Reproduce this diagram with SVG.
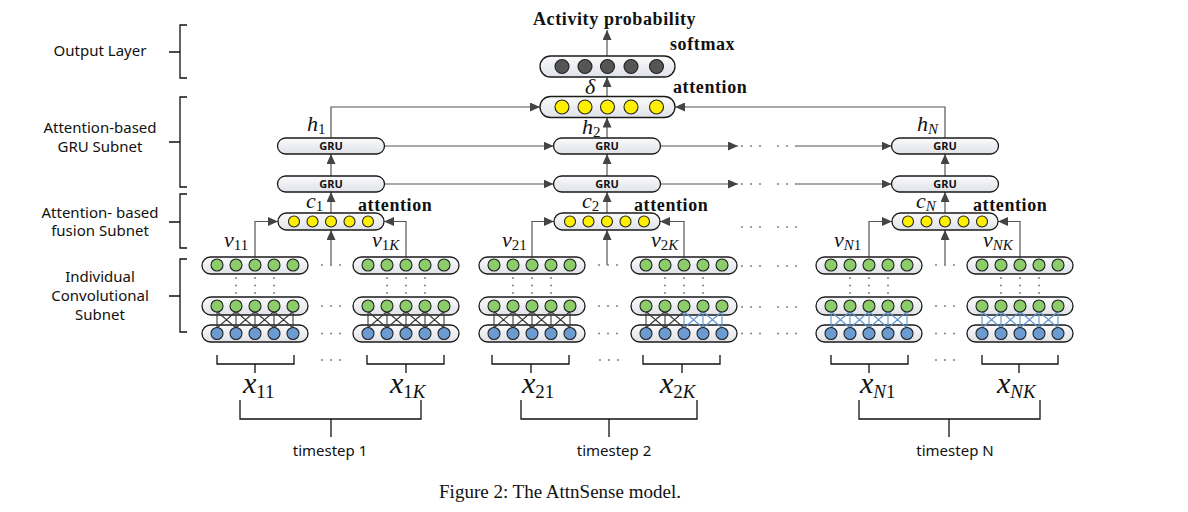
<svg xmlns="http://www.w3.org/2000/svg" xmlns:xlink="http://www.w3.org/1999/xlink" width="1188" height="512" viewBox="0 0 1188 512">
<defs>
<style>
.capsule{fill:url(#capg);stroke:#1a1a1a;stroke-width:1.3}
.gc{fill:#8ccc6a;stroke:#222;stroke-width:1.1}
.bc{fill:#6b9bd0;stroke:#222;stroke-width:1.1}
.yc{fill:#fff000;stroke:#222;stroke-width:1.1}
.kc{fill:#555;stroke:#222;stroke-width:1.1}
.dot{fill:#8a8a8a}
.xd{stroke:#3a3a3a;stroke-width:1.1;fill:none}
.xb{stroke:#5b95d0;stroke-width:1.1;fill:none}
.conn{stroke:#555;stroke-width:1.2;fill:none;marker-end:url(#ah)}
.br{stroke:#111;stroke-width:1.3;fill:none}
.lbl{font-family:"Noto Sans","DejaVu Sans",sans-serif;font-size:15px;fill:#111;text-anchor:middle}
.gru{font-family:"Noto Sans","DejaVu Sans",sans-serif;font-size:11px;font-weight:bold;fill:#111;text-anchor:middle}
.bt{font-family:"Liberation Serif",serif;font-weight:bold;font-size:18px;letter-spacing:0.6px;fill:#111}
.m{font-family:"Liberation Serif",serif;font-style:italic;font-size:22px;fill:#111}
.mx{font-family:"Liberation Serif",serif;font-style:italic;font-size:30px;fill:#111}
.s{font-style:normal;font-size:15px}
.si{font-style:italic;font-size:15px}
.s2{font-style:normal;font-size:19px}
.si2{font-style:italic;font-size:19px}
.fig{font-family:"Liberation Serif",serif;font-size:19px;fill:#111;text-anchor:middle}
</style>
<linearGradient id="capg" x1="0" y1="0" x2="0" y2="1">
<stop offset="0" stop-color="#fbfbfc"/>
<stop offset="1" stop-color="#dfe2e8"/>
</linearGradient>
<marker id="ah" viewBox="0 0 10 9" refX="10" refY="4.5" markerWidth="10" markerHeight="9" markerUnits="userSpaceOnUse" orient="auto">
<path d="M0,0 L10,4.5 L0,9 z" fill="#444"/>
</marker>
<g id="convCaps">
<rect class="capsule" x="-53" y="257" width="106" height="17" rx="8.5"/>
<rect class="capsule" x="-53" y="297" width="106" height="18" rx="9"/>
<rect class="capsule" x="-53" y="325" width="106" height="17" rx="8.5"/>
</g>
<g id="convDots" class="dot">
<circle cx="-19" cy="278" r="1.1"/><circle cx="0" cy="278" r="1.1"/><circle cx="19" cy="278" r="1.1"/>
<circle cx="-19" cy="285.5" r="1.1"/><circle cx="0" cy="285.5" r="1.1"/><circle cx="19" cy="285.5" r="1.1"/>
<circle cx="-19" cy="293" r="1.1"/><circle cx="0" cy="293" r="1.1"/><circle cx="19" cy="293" r="1.1"/>
</g>
<path id="xDark" class="xd" d="M-38,306V333.5M-19,306V333.5M0,306V333.5M19,306V333.5M38,306V333.5M-38,311.5L-19,328M-19,311.5L-38,328M-19,311.5L0,328M0,311.5L-19,328M0,311.5L19,328M19,311.5L0,328M19,311.5L38,328M38,311.5L19,328"/>
<path id="xBlue" class="xb" d="M-38,306V333.5M-19,306V333.5M0,306V333.5M19,306V333.5M38,306V333.5M-38,311.5L-19,328M-19,311.5L-38,328M-19,311.5L0,328M0,311.5L-19,328M0,311.5L19,328M19,311.5L0,328M19,311.5L38,328M38,311.5L19,328"/>
<g id="xMix">
<path class="xd" d="M-38,306V333.5M-19,306V333.5M-38,311.5L-19,328M-19,311.5L-38,328M-19,311.5L0,328M0,311.5L-19,328"/>
<path class="xb" d="M0,306V333.5M19,306V333.5M38,306V333.5M0,311.5L19,328M19,311.5L0,328M19,311.5L38,328M38,311.5L19,328"/>
</g>
<g id="convCircles">
<circle class="gc" cx="-38" cy="265" r="6"/><circle class="gc" cx="-19" cy="265" r="6"/><circle class="gc" cx="0" cy="265" r="6"/><circle class="gc" cx="19" cy="265" r="6"/><circle class="gc" cx="38" cy="265" r="6"/>
<circle class="gc" cx="-38" cy="306" r="6"/><circle class="gc" cx="-19" cy="306" r="6"/><circle class="gc" cx="0" cy="306" r="6"/><circle class="gc" cx="19" cy="306" r="6"/><circle class="gc" cx="38" cy="306" r="6"/>
<circle class="bc" cx="-38" cy="333.5" r="6"/><circle class="bc" cx="-19" cy="333.5" r="6"/><circle class="bc" cx="0" cy="333.5" r="6"/><circle class="bc" cx="19" cy="333.5" r="6"/><circle class="bc" cx="38" cy="333.5" r="6"/>
</g>
<g id="fusion">
<rect class="capsule" x="-53" y="213" width="106" height="17" rx="8.5"/>
<circle class="yc" cx="-37" cy="221.5" r="5.5"/><circle class="yc" cx="-18.5" cy="221.5" r="5.5"/><circle class="yc" cx="0" cy="221.5" r="5.5"/><circle class="yc" cx="18.5" cy="221.5" r="5.5"/><circle class="yc" cx="37" cy="221.5" r="5.5"/>
</g>
<g id="gruBox">
<rect class="capsule" x="-53.5" y="0" width="107" height="16" rx="8"/>
</g>
<g id="hdots" class="dot">
<circle cx="-9" cy="0" r="1.1"/><circle cx="0" cy="0" r="1.1"/><circle cx="9" cy="0" r="1.1"/>
</g>
</defs>

<rect width="1188" height="512" fill="#ffffff"/>

<!-- Left layer labels -->
<g id="layer-labels">
<text class="lbl" x="100" y="56">Output Layer</text>
<text class="lbl" x="100" y="133">Attention-based</text>
<text class="lbl" x="100" y="152">GRU Subnet</text>
<text class="lbl" x="100" y="218">Attention- based</text>
<text class="lbl" x="100" y="236">fusion Subnet</text>
<text class="lbl" x="100" y="282">Individual</text>
<text class="lbl" x="100" y="301">Convolutional</text>
<text class="lbl" x="100" y="320">Subnet</text>
<path class="br" d="M187,25H180V78H187M169,52H180"/>
<path class="br" d="M187,97H180V187H187M169,142H180"/>
<path class="br" d="M187,194H180V248H187M169,222H180"/>
<path class="br" d="M187,259H180V332H187M169,296H180"/>
</g>

<!-- Connectors -->
<g id="connectors">
<path class="conn" d="M607,56V30"/>
<path class="conn" d="M607,96.5V77"/>
<path class="conn" d="M607,138V117.5"/>
<path class="conn" d="M331,138V107H540"/>
<path class="conn" d="M945,138V107H675"/>
<path class="conn" d="M331,176V154"/>
<path class="conn" d="M607,176V154"/>
<path class="conn" d="M945,176V154"/>
<path class="conn" d="M331,213V192"/>
<path class="conn" d="M607,213V192"/>
<path class="conn" d="M945,213V192"/>
<path class="conn" d="M331,265V230"/>
<path class="conn" d="M607,265V230"/>
<path class="conn" d="M945,265V230"/>
<path class="conn" d="M255,257V221.5H278"/>
<path class="conn" d="M406,257V221.5H384"/>
<path class="conn" d="M532,257V221.5H554"/>
<path class="conn" d="M684,257V221.5H660"/>
<path class="conn" d="M869,257V221.5H892"/>
<path class="conn" d="M1020,257V221.5H998"/>
<path class="conn" d="M384.5,146H553.5"/>
<path class="conn" d="M660.5,146H738"/>
<path class="conn" d="M797,146H891.5"/>
<path class="conn" d="M384.5,184H553.5"/>
<path class="conn" d="M660.5,184H738"/>
<path class="conn" d="M797,184H891.5"/>
</g>

<!-- ellipsis dots -->
<g id="ellipses">
<use href="#hdots" x="331" y="265"/><use href="#hdots" x="331" y="306"/><use href="#hdots" x="331" y="333.5"/><use href="#hdots" x="331" y="360"/>
<use href="#hdots" x="608" y="265"/><use href="#hdots" x="608" y="306"/><use href="#hdots" x="608" y="333.5"/><use href="#hdots" x="609" y="360"/>
<use href="#hdots" x="945" y="265"/><use href="#hdots" x="945" y="306"/><use href="#hdots" x="945" y="333.5"/><use href="#hdots" x="945" y="360"/>
<use href="#hdots" x="751" y="146"/><use href="#hdots" x="787" y="146"/>
<use href="#hdots" x="751" y="184"/><use href="#hdots" x="787" y="184"/>
<use href="#hdots" x="751" y="227"/><use href="#hdots" x="787" y="227"/>
<use href="#hdots" x="751" y="266"/><use href="#hdots" x="787" y="266"/>
<use href="#hdots" x="751" y="307"/><use href="#hdots" x="787" y="307"/>
<use href="#hdots" x="751" y="333.5"/><use href="#hdots" x="787" y="333.5"/>
</g>

<!-- Output layer -->
<g id="softmax">
<rect class="capsule" x="540" y="56" width="135" height="21" rx="10.5"/>
<circle class="kc" cx="562" cy="66.5" r="7"/><circle class="kc" cx="585" cy="66.5" r="7"/><circle class="kc" cx="607.5" cy="66.5" r="7"/><circle class="kc" cx="631" cy="66.5" r="7"/><circle class="kc" cx="656.5" cy="66.5" r="7"/>
<text class="bt" x="670" y="50">softmax</text>
</g>
<text class="bt" x="533" y="25">Activity probability</text>
<g id="gru-attention">
<rect class="capsule" x="540" y="96.5" width="135" height="21" rx="10.5"/>
<circle class="yc" cx="562" cy="107" r="7"/><circle class="yc" cx="585" cy="107" r="7"/><circle class="yc" cx="607.5" cy="107" r="7"/><circle class="yc" cx="631" cy="107" r="7"/><circle class="yc" cx="656.5" cy="107" r="7"/>
<text class="bt" x="673" y="93">attention</text>
<text class="m" x="585" y="94">δ</text>
</g>

<!-- GRU nodes -->
<g id="gru-1-top"><use href="#gruBox" x="331" y="138"/><text class="gru" x="331" y="150">GRU</text></g>
<g id="gru-1-bottom"><use href="#gruBox" x="331" y="176"/><text class="gru" x="331" y="188">GRU</text></g>
<g id="gru-2-top"><use href="#gruBox" x="607" y="138"/><text class="gru" x="607" y="150">GRU</text></g>
<g id="gru-2-bottom"><use href="#gruBox" x="607" y="176"/><text class="gru" x="607" y="188">GRU</text></g>
<g id="gru-N-top"><use href="#gruBox" x="945" y="138"/><text class="gru" x="945" y="150">GRU</text></g>
<g id="gru-N-bottom"><use href="#gruBox" x="945" y="176"/><text class="gru" x="945" y="188">GRU</text></g>

<text class="m" x="307" y="131">h<tspan class="s" dy="3">1</tspan></text>
<text class="m" x="582" y="134">h<tspan class="s" dy="3">2</tspan></text>
<text class="m" x="917" y="131">h<tspan class="si" dy="3">N</tspan></text>

<!-- Fusion nodes -->
<g id="fusion-1"><use href="#fusion" x="331"/><text class="bt" x="358" y="211">attention</text></g>
<g id="fusion-2"><use href="#fusion" x="607"/><text class="bt" x="634" y="211">attention</text></g>
<g id="fusion-N"><use href="#fusion" x="945"/><text class="bt" x="973" y="211">attention</text></g>

<text class="m" x="306" y="208">c<tspan class="s" dy="3">1</tspan></text>
<text class="m" x="582" y="208">c<tspan class="s" dy="3">2</tspan></text>
<text class="m" x="916" y="208">c<tspan class="si" dy="3">N</tspan></text>

<!-- Convolutional nodes -->
<g id="conv-11" transform="translate(255,0)"><use href="#convCaps"/><use href="#convDots"/><use href="#xDark"/><use href="#convCircles"/></g>
<g id="conv-1K" transform="translate(406,0)"><use href="#convCaps"/><use href="#convDots"/><use href="#xDark"/><use href="#convCircles"/></g>
<g id="conv-21" transform="translate(532,0)"><use href="#convCaps"/><use href="#convDots"/><use href="#xDark"/><use href="#convCircles"/></g>
<g id="conv-2K" transform="translate(684,0)"><use href="#convCaps"/><use href="#convDots"/><use href="#xMix"/><use href="#convCircles"/></g>
<g id="conv-N1" transform="translate(869,0)"><use href="#convCaps"/><use href="#convDots"/><use href="#xBlue"/><use href="#convCircles"/></g>
<g id="conv-NK" transform="translate(1020,0)"><use href="#convCaps"/><use href="#convDots"/><use href="#xBlue"/><use href="#convCircles"/></g>

<text class="m" x="224" y="247">v<tspan class="s" dy="3">11</tspan></text>
<text class="m" x="372" y="247">v<tspan class="s" dy="3">1</tspan><tspan class="si">K</tspan></text>
<text class="m" x="502" y="247">v<tspan class="s" dy="3">21</tspan></text>
<text class="m" x="651" y="247">v<tspan class="s" dy="3">2</tspan><tspan class="si">K</tspan></text>
<text class="m" x="834" y="247">v<tspan class="si" dy="3">N</tspan><tspan class="s">1</tspan></text>
<text class="m" x="983" y="247">v<tspan class="si" dy="3">NK</tspan></text>

<!-- Input brackets -->
<g id="inputs">
<path class="br" d="M217,355V364H294V355M255,364V373"/>
<path class="br" d="M367,355V364H444V355M406,364V373"/>
<path class="br" d="M492,355V364H569V355M531,364V373"/>
<path class="br" d="M643,355V364H720V355M682,364V373"/>
<path class="br" d="M831,355V364H908V355M869,364V373"/>
<path class="br" d="M982,355V364H1058V355M1019,364V373"/>
<path class="br" d="M240,400V419H421V400M331,419V437"/>
<path class="br" d="M521,400V419H697V400M609,419V437"/>
<path class="br" d="M859,400V419H1040V400M949,419V437"/>
<text class="mx" x="243" y="393">x<tspan class="s2" dy="5">11</tspan></text>
<text class="mx" x="390" y="393">x<tspan class="s2" dy="5">1</tspan><tspan class="si2">K</tspan></text>
<text class="mx" x="522" y="393">x<tspan class="s2" dy="5">21</tspan></text>
<text class="mx" x="660" y="393">x<tspan class="s2" dy="5">2</tspan><tspan class="si2">K</tspan></text>
<text class="mx" x="860" y="393">x<tspan class="si2" dy="5">N</tspan><tspan class="s2">1</tspan></text>
<text class="mx" x="997" y="393">x<tspan class="si2" dy="5">NK</tspan></text>
<text class="lbl" x="330" y="456">timestep 1</text>
<text class="lbl" x="614" y="456">timestep 2</text>
<text class="lbl" x="955" y="456">timestep N</text>
</g>

<text class="fig" x="560" y="498">Figure 2: The AttnSense model.</text>
</svg>
